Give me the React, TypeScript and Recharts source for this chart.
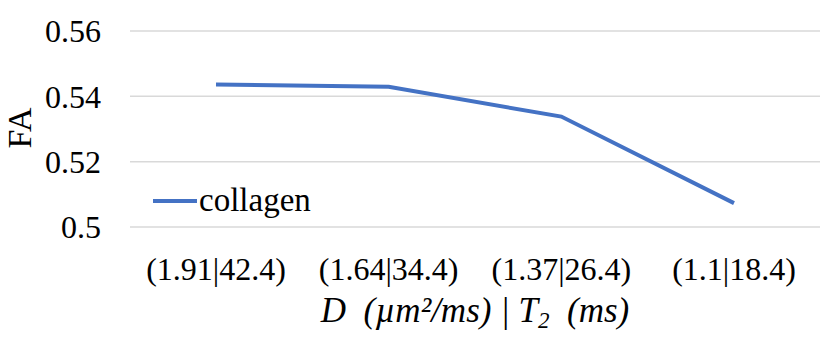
import { LineChart, Line, XAxis, YAxis, CartesianGrid, Legend } from 'recharts'

const categories = ['(1.91|42.4)', '(1.64|34.4)', '(1.37|26.4)', '(1.1|18.4)']
const collagen = [0.5436, 0.5429, 0.5338, 0.5073]
const yTicks = [0.5, 0.52, 0.54, 0.56]

const FONT = '"Liberation Serif", "Times New Roman", serif'
const BLUE = '#4472C4'

const data = categories.map((c, i) => ({ name: c, collagen: collagen[i] }))

function XTitle({ viewBox }: any) {
  const { x, y, width } = viewBox
  return (
    <text
      x={x + width / 2}
      y={y + 95}
      textAnchor="middle"
      fontFamily={FONT}
      fontSize={35}
      fontStyle="italic"
      fill="#000"
    >
      <tspan>{'D\u00a0 (µm²/ms) | T'}</tspan>
      <tspan dy={6} fontSize={23}>2</tspan>
      <tspan dy={-6}>{'\u00a0 (ms)'}</tspan>
    </text>
  )
}

function YTitle() {
  return (
    <text
      x={19}
      y={128}
      transform="rotate(-90 19 128)"
      textAnchor="middle"
      dominantBaseline="central"
      fontFamily={FONT}
      fontSize={34}
      fill="#000"
    >
      FA
    </text>
  )
}

function LegendBox() {
  return (
    <div style={{ display: 'flex', alignItems: 'center', fontFamily: FONT, fontSize: 33, color: '#000' }}>
      <span style={{ display: 'inline-block', width: 44, height: 4, background: BLUE, marginRight: 2 }} />
      <span>collagen</span>
    </div>
  )
}

export default function App() {
  return (
    <div style={{ position: 'absolute', left: 0, top: 0, background: '#fff' }}>
      <LineChart width={821} height={337} data={data} margin={{ top: 31, right: 1, left: 0, bottom: 0 }}>
        <CartesianGrid vertical={false} stroke="#d9d9d9" strokeWidth={1.5} />
        <XAxis
          dataKey="name"
          height={110}
          padding={{ left: 86, right: 86 }}
          axisLine={false}
          tickLine={false}
          tickSize={0}
          tickMargin={30}
          interval={0}
          tick={{ fontFamily: FONT, fontSize: 32, fill: '#000' }}
          label={<XTitle />}
        />
        <YAxis
          width={130}
          domain={[0.5, 0.56]}
          ticks={yTicks}
          axisLine={false}
          tickLine={false}
          tickSize={0}
          tickMargin={29}
          tick={{ fontFamily: FONT, fontSize: 32, fill: '#000' }}
          label={<YTitle />}
        />
        <Legend
          layout="horizontal"
          verticalAlign="middle"
          align="center"
          content={<LegendBox />}
          wrapperStyle={{ left: 153, top: 182, width: 'auto' }}
        />
        <Line
          type="linear"
          dataKey="collagen"
          stroke={BLUE}
          strokeWidth={4}
          dot={false}
          activeDot={false}
          isAnimationActive={false}
        />
      </LineChart>
    </div>
  )
}
